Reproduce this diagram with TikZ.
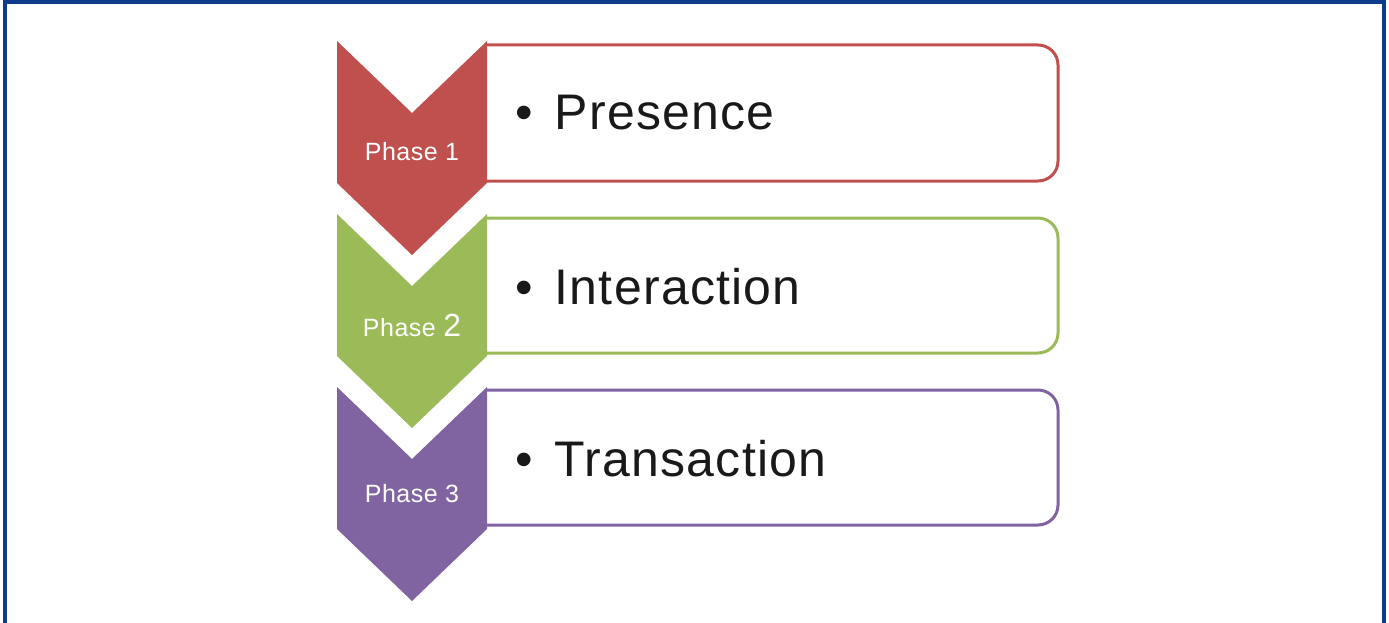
\documentclass[tikz,border=0pt]{standalone}
\usepackage{fontspec}
\setmainfont{Liberation Sans}
\usetikzlibrary{positioning}

\definecolor{phasered}{RGB}{192,80,77}
\definecolor{phasegreen}{RGB}{155,187,89}
\definecolor{phasepurple}{RGB}{128,100,162}
\definecolor{frameblue}{RGB}{14,60,140}

\begin{document}
\begin{tikzpicture}[x=1pt, y=-1pt,
        itembox/.style={line width=3pt, fill=white, rounded corners=20pt},
        itemtext/.style={anchor=base west, inner sep=0pt, text=black!90,
            font=\fontsize{50}{60}\selectfont\addfontfeature{LetterSpace=2.5}},
        phasetext/.style={text=white, inner sep=0pt,
            font=\fontsize{25}{30}\selectfont\addfontfeature{LetterSpace=2}}]

        \useasboundingbox (0,0) rectangle (1389,623);

        % Frame
        \draw[frameblue, line width=4.5pt] (5,640) -- (5,2.2) -- (1384,2.2) -- (1384,640);

        % Item boxes (rounded on the right side only)
        \draw[itembox, draw=phasered] (487,45) -- (1058,45) -- (1058,181) -- (487,181);
        \draw[itembox, draw=phasegreen] (487,218) -- (1058,218) -- (1058,353) -- (487,353);
        \draw[itembox, draw=phasepurple] (487,390) -- (1058,390) -- (1058,525) -- (487,525);

        % Chevrons
        \fill[phasered] (337,41) -- (412,113) -- (487,41) -- (487,183) -- (412,255) -- (337,183) -- cycle;
        \fill[phasegreen] (337,214) -- (412,286) -- (487,214) -- (487,356) -- (412,428) -- (337,356) -- cycle;
        \fill[phasepurple] (337,387) -- (412,459) -- (487,387) -- (487,529) -- (412,601) -- (337,529) -- cycle;

        % Phase labels
        \node[phasetext] (phase1) at (412,152) {Phase 1};
        \node[phasetext] (phase2) at (412,325) {Phase {\fontsize{32}{36}\selectfont 2}};
        \node[phasetext] (phase3) at (412,494) {Phase 3};

        % Item texts
        \node[itemtext] (presence) at (515,130) {•\hspace{22pt}Presence};
        \node[itemtext] (interaction) at (515,304) {•\hspace{22pt}Interaction};
        \node[itemtext] (transaction) at (515,476) {•\hspace{22pt}Transaction};

    \end{tikzpicture}
\end{document}
